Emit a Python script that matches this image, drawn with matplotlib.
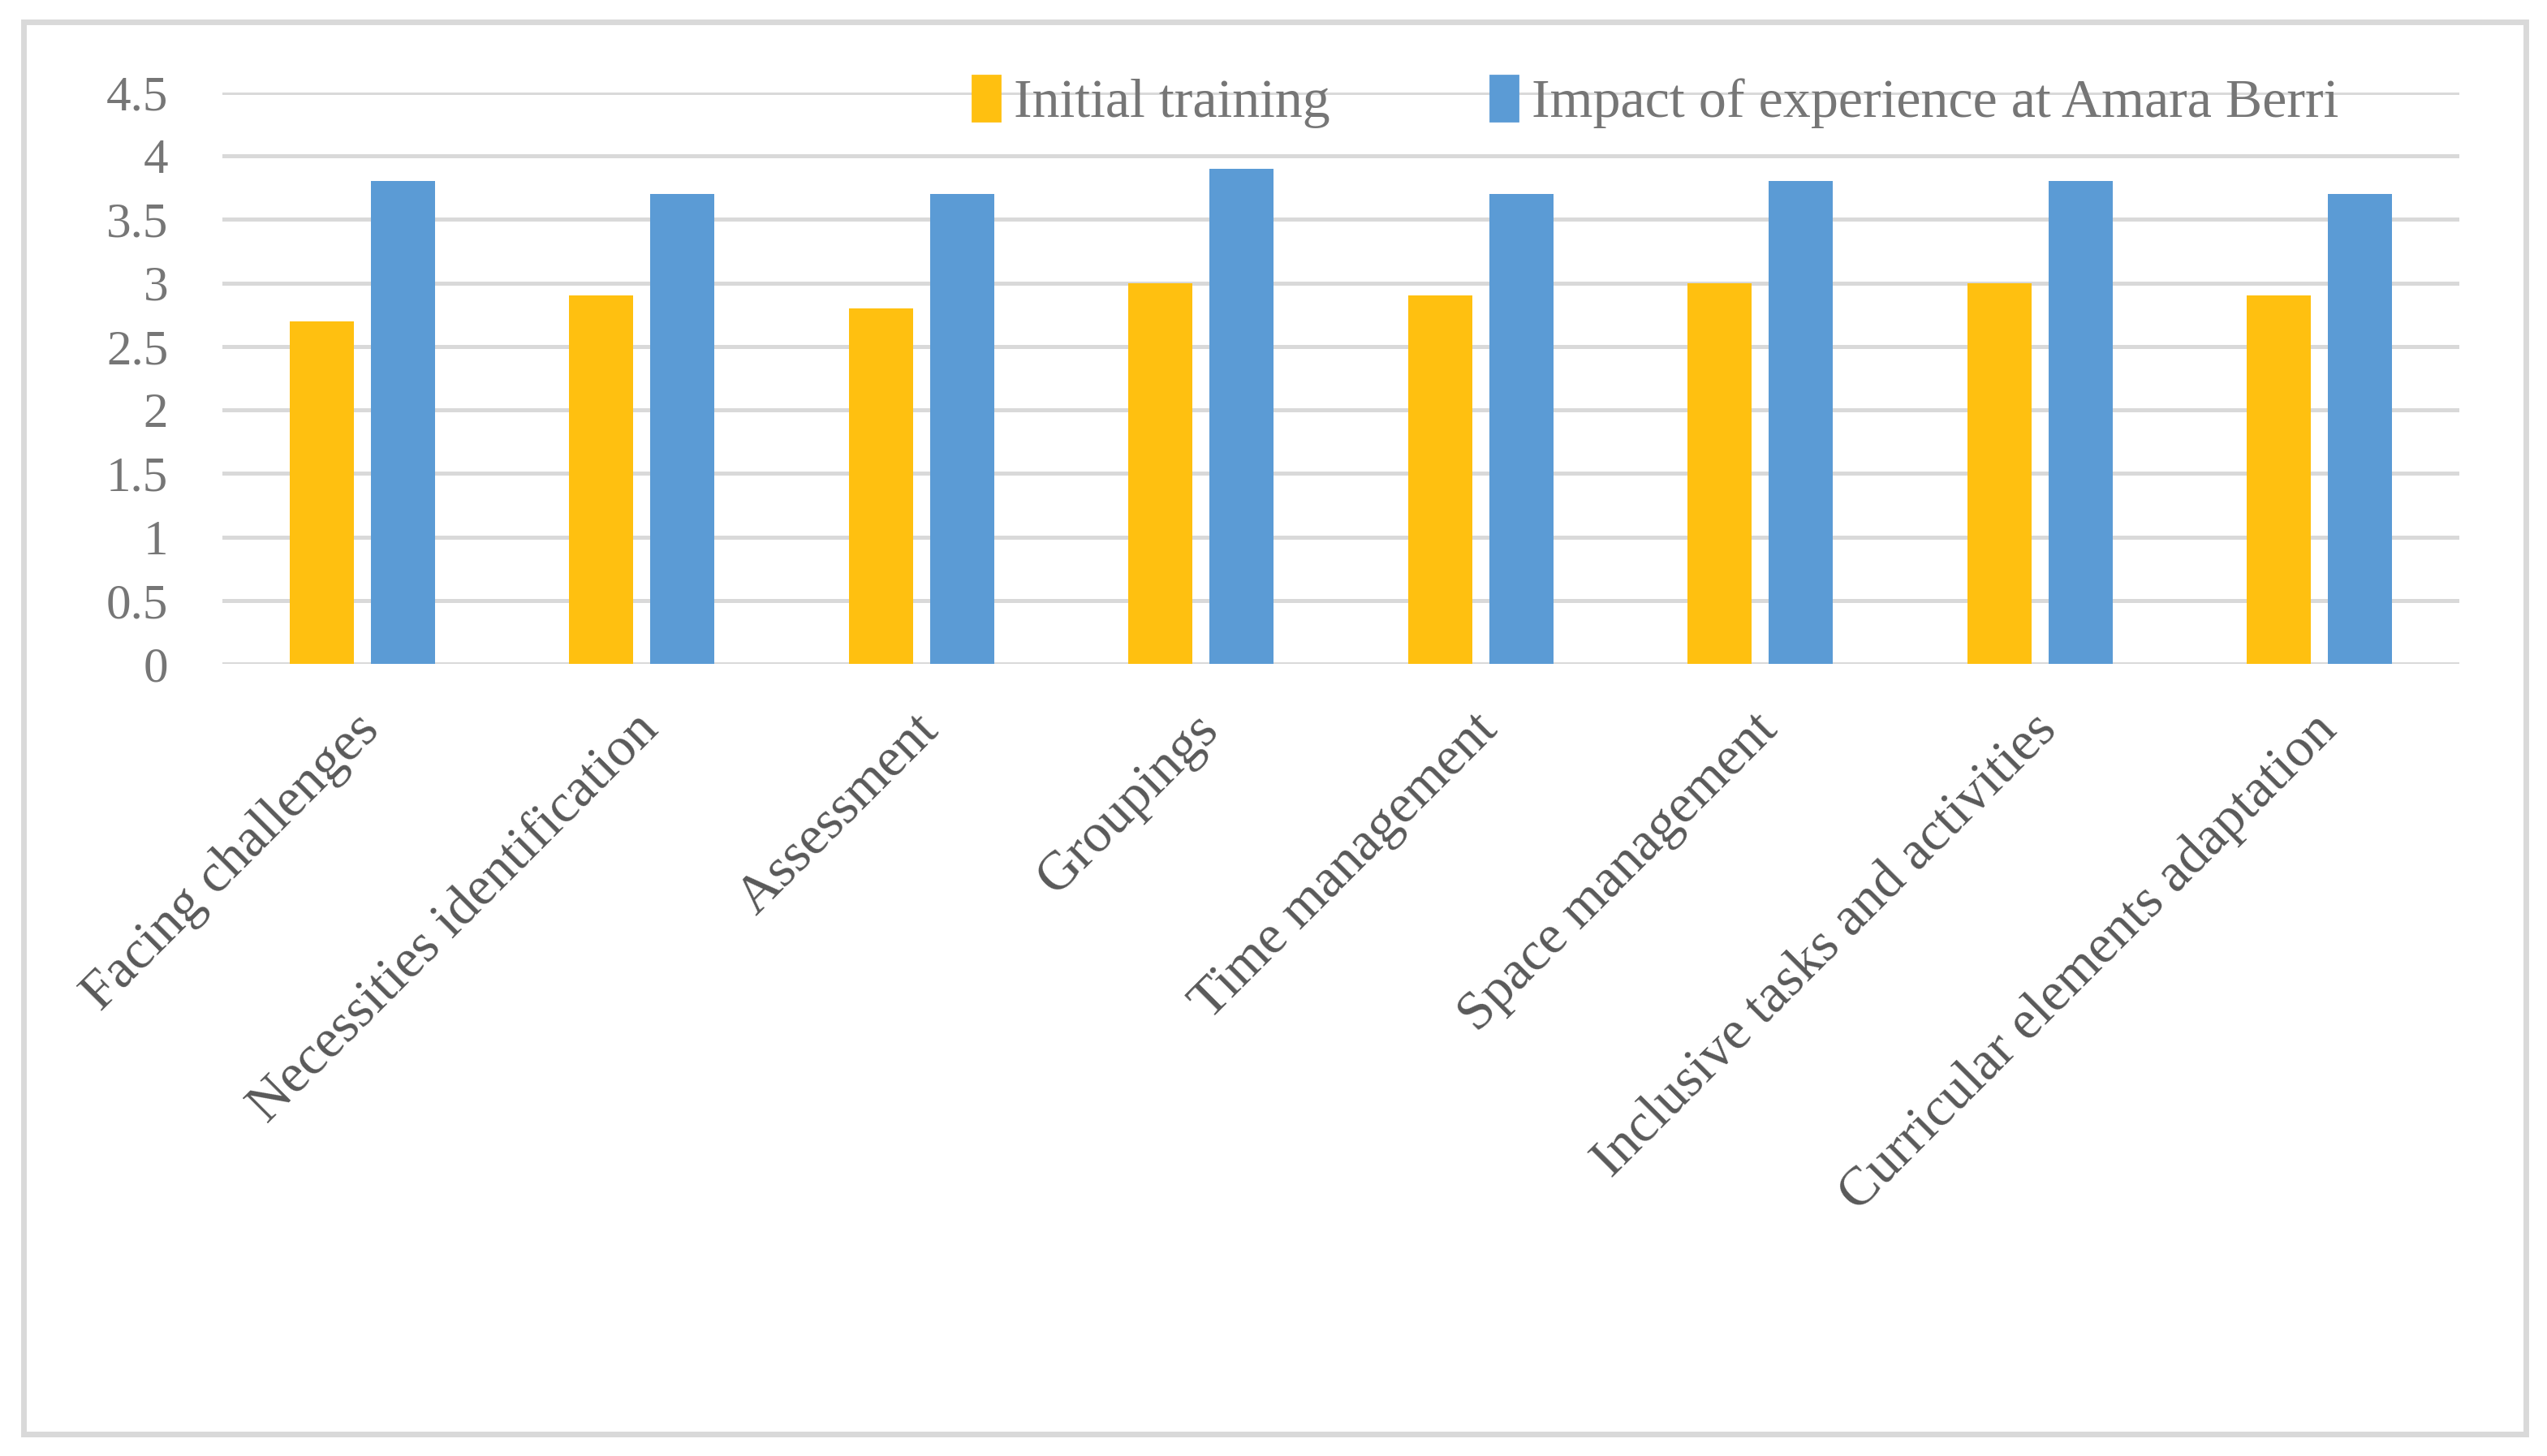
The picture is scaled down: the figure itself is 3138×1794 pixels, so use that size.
import matplotlib.pyplot as plt
import numpy as np
from matplotlib.patches import Rectangle, Patch

categories = ['Facing challenges', 'Necessities identification', 'Assessment', 'Groupings',
              'Time management', 'Space management', 'Inclusive tasks and activities',
              'Curricular elements adaptation']
initial = [2.7, 2.9, 2.8, 3.0, 2.9, 3.0, 3.0, 2.9]
impact = [3.8, 3.7, 3.7, 3.9, 3.7, 3.8, 3.8, 3.7]
yticks = [0, 0.5, 1, 1.5, 2, 2.5, 3, 3.5, 4, 4.5]
ytick_labels = ['0', '0.5', '1', '1.5', '2', '2.5', '3', '3.5', '4', '4.5']

plt.rcParams['font.family'] = ['Liberation Serif', 'DejaVu Serif']

fig = plt.figure(figsize=(15.69, 8.97), dpi=200)
ax = fig.add_axes([0.0873, 0.544, 0.8783, 0.3925])

x = np.arange(len(categories))
ax.bar(x - 0.145, initial, width=0.23, color='#FFC010', label='Initial training', zorder=3)
ax.bar(x + 0.145, impact, width=0.23, color='#5B9BD5', label='Impact of experience at Amara Berri', zorder=3)

ax.set_xlim(-0.5, len(categories) - 0.5)
ax.set_ylim(0, 4.5)
ax.set_yticks(yticks)
ax.set_yticklabels(ytick_labels)
ax.yaxis.grid(True, color='#D9D9D9', linewidth=1.8, zorder=0)
ax.set_axisbelow(True)
for s in ax.spines.values():
    s.set_visible(False)
ax.tick_params(axis='y', length=0, pad=24, labelsize=22, labelcolor='#767676')
ax.tick_params(axis='x', length=0, pad=18, labelsize=24.5, labelcolor='#595959')
ax.set_xticks(x - 0.03)
ax.set_xticklabels(categories, rotation=45, ha='right', rotation_mode='anchor')

leg = fig.legend(handles=[Patch(color='#FFC010', label='Initial training'),
                          Patch(color='#5B9BD5', label='Impact of experience at Amara Berri')],
                 loc='center', bbox_to_anchor=(0.650, 0.93), ncol=2, frameon=False,
                 fontsize=24.5, handlelength=0.5, handleheight=0.9, handletextpad=0.25,
                 columnspacing=2.9, labelcolor='#767676')

# outer chart border, with a slightly heavier bottom edge
fig.patches.append(Rectangle((29 / 3138, 1 - 1767 / 1794), (3112 - 29) / 3138, (1767 - 27) / 1794,
                             transform=fig.transFigure, fill=False, edgecolor='#D9D9D9',
                             linewidth=2.5, zorder=0))
fig.patches.append(Rectangle((29 / 3138, 1 - 1771 / 1794), (3112 - 29) / 3138, 7 / 1794,
                             transform=fig.transFigure, color='#D9D9D9', linewidth=0, zorder=0))

fig.savefig('out.png', dpi=200, facecolor='white')
